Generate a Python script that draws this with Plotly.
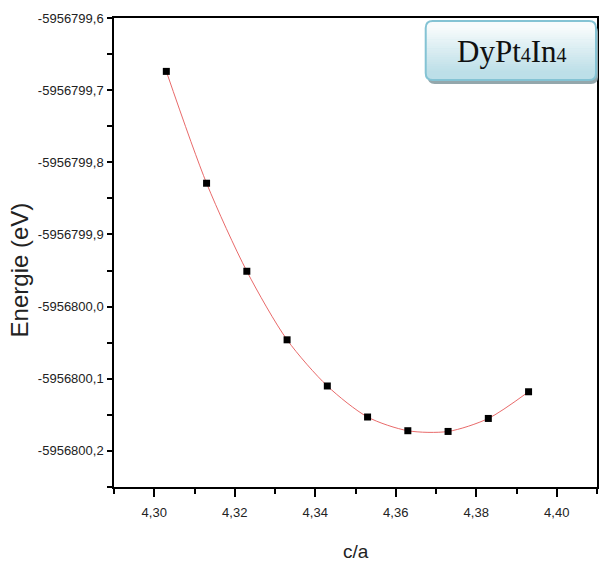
import plotly.graph_objects as go

# c/a ratios and total energies (eV)
c_over_a = [4.303, 4.313, 4.323, 4.333, 4.343, 4.353, 4.363, 4.373, 4.383, 4.393]
energy = [-5956799.674, -5956799.829, -5956799.951, -5956800.046, -5956800.110,
          -5956800.153, -5956800.172, -5956800.173, -5956800.155, -5956800.118]

# axis ticks
x_tick_vals = [4.30, 4.32, 4.34, 4.36, 4.38, 4.40]
x_tick_text = ["4,30", "4,32", "4,34", "4,36", "4,38", "4,40"]
y_tick_vals = [-5956799.6, -5956799.7, -5956799.8, -5956799.9,
               -5956800.0, -5956800.1, -5956800.2]
y_tick_text = ["-5956799,6", "-5956799,7", "-5956799,8", "-5956799,9",
               "-5956800,0", "-5956800,1", "-5956800,2"]

x_range = [4.29, 4.41]
y_range = [-5956800.25, -5956799.6]

WIDTH, HEIGHT = 605, 565
ML, MR, MT, MB = 114, 6, 18, 78
PW, PH = WIDTH - ML - MR, HEIGHT - MT - MB


def px(x):
    return (x - ML) / PW


def py(y):
    return 1 - (y - MT) / PH


def rounded_path(x0, y0, x1, y1, r):
    """Rounded rectangle in pixel space, returned as a paper-coordinate SVG path."""
    pts = [
        ("M", [(x0 + r, y0)]),
        ("L", [(x1 - r, y0)]),
        ("Q", [(x1, y0), (x1, y0 + r)]),
        ("L", [(x1, y1 - r)]),
        ("Q", [(x1, y1), (x1 - r, y1)]),
        ("L", [(x0 + r, y1)]),
        ("Q", [(x0, y1), (x0, y1 - r)]),
        ("L", [(x0, y0 + r)]),
        ("Q", [(x0, y0), (x0 + r, y0)]),
    ]
    out = []
    for cmd, coords in pts:
        out.append(cmd + " ".join(f"{px(a):.5f},{py(b):.5f}" for a, b in coords))
    return " ".join(out) + " Z"


fig = go.Figure()
fig.add_trace(go.Scatter(
    x=c_over_a, y=energy, mode="lines+markers",
    line=dict(color="rgba(228,80,80,0.85)", width=1, shape="spline", smoothing=0.8),
    marker=dict(symbol="square", size=7, color="black"),
    showlegend=False,
))

shapes = []
# label box: shadow, gradient body, outline
bx0, by0, bx1, by1, rad = 427, 21, 598, 80, 7
shapes.append(dict(type="path", xref="paper", yref="paper", layer="above",
                   path=rounded_path(bx0 + 2, by0 + 4, bx1 + 2, by1 + 4, rad),
                   fillcolor="#94a7ac", line=dict(width=0)))
shapes.append(dict(type="path", xref="paper", yref="paper", layer="above",
                   path=rounded_path(bx0, by0, bx1, by1, rad),
                   fillcolor="#bcdfe8", line=dict(width=0)))
shapes.append(dict(type="path", xref="paper", yref="paper", layer="above",
                   path=rounded_path(bx0, by0, bx1, by0 + 2 * rad + 2, rad),
                   fillcolor="#f7fbfc", line=dict(width=0)))
top_c = (247, 251, 252)
bot_c = (188, 223, 232)
n = 20
y_a, y_b = by0 + rad, by1 - rad
for i in range(n):
    t = (i + 0.5) / n
    c = tuple(int(top_c[k] + (bot_c[k] - top_c[k]) * t) for k in range(3))
    ya = y_a + (y_b - y_a) * i / n
    yb = y_a + (y_b - y_a) * (i + 1) / n + 0.6
    shapes.append(dict(type="rect", xref="paper", yref="paper", layer="above",
                       x0=px(bx0 + 0.5), x1=px(bx1 - 0.5), y0=py(ya), y1=py(yb),
                       fillcolor=f"rgb{c}", line=dict(width=0)))
shapes.append(dict(type="path", xref="paper", yref="paper", layer="above",
                   path=rounded_path(bx0, by0, bx1, by1, rad),
                   fillcolor="rgba(0,0,0,0)", line=dict(color="#84c3d4", width=2)))

sub4 = '<span style="font-size:20px">4</span>'
annotations = [
    dict(text=f"DyPt{sub4}In{sub4}", xref="paper", yref="paper",
         x=px((bx0 + bx1) / 2 + 1), y=py((by0 + by1) / 2 + 1), showarrow=False,
         xanchor="center", yanchor="middle",
         font=dict(family="Liberation Serif", size=31, color="#111")),
    dict(text="Energie (eV)", xref="paper", yref="paper", x=px(19), y=py(270),
         showarrow=False, textangle=-90, xanchor="center", yanchor="middle",
         font=dict(family="Liberation Sans", size=24, color="#222")),
    dict(text="c/a", xref="paper", yref="paper", x=px(357), y=py(551),
         showarrow=False, xanchor="center", yanchor="middle",
         font=dict(family="Liberation Sans", size=19, color="#222")),
]

axis_common = dict(showline=True, linecolor="black", linewidth=1.5, mirror=True,
                   showgrid=False, zeroline=False, ticks="outside",
                   tickcolor="black", tickwidth=1.5, tickmode="array",
                   tickfont=dict(family="Liberation Sans", size=13, color="#222"))

fig.update_layout(
    width=WIDTH, height=HEIGHT,
    margin=dict(l=ML, r=MR, t=MT, b=MB),
    paper_bgcolor="white", plot_bgcolor="white",
    shapes=shapes, annotations=annotations,
    xaxis=dict(range=x_range, tickvals=x_tick_vals, ticktext=x_tick_text, ticklen=8,
               ticklabelstandoff=5,
               minor=dict(ticks="outside", dtick=0.01, tick0=4.29, ticklen=5,
                          tickcolor="black", tickwidth=1.5),
               **axis_common),
    yaxis=dict(range=y_range, tickvals=y_tick_vals, ticktext=y_tick_text, ticklen=5,
               ticklabelstandoff=1,
               minor=dict(ticks="outside", dtick=0.05, tick0=-5956800.0, ticklen=5,
                          tickcolor="black", tickwidth=1.5),
               **axis_common),
)

fig.write_html("out.html")
